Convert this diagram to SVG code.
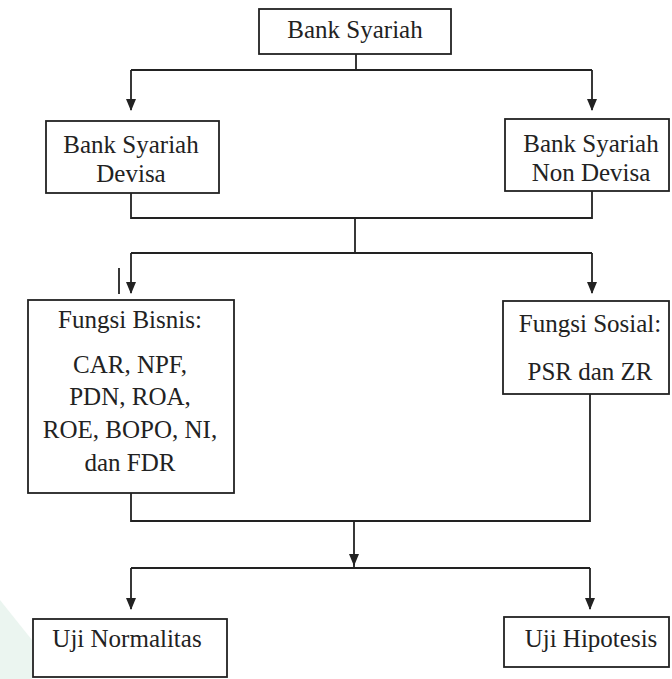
<svg xmlns="http://www.w3.org/2000/svg" width="672" height="679" viewBox="0 0 672 679">
<style>
.box{fill:#fff;stroke:#222;stroke-width:1.8}
.ln{fill:none;stroke:#222;stroke-width:1.8}
.t{font-family:'Liberation Serif','Times New Roman',serif;font-size:25px;fill:#222;text-anchor:middle}
</style>
<defs>
<marker id="ah" markerUnits="userSpaceOnUse" markerWidth="12" markerHeight="14" viewBox="0 0 12 14" refX="11" refY="6" orient="auto">
<path d="M0,1 L12,6 L0,11 z" fill="#222"/>
</marker>
</defs>
<rect width="672" height="679" fill="#fff"/>
<path d="M0,600 L32,640 L32,679 L0,679 z" fill="#e3f1ea" opacity="0.7"/>
<g id="connectors">
<path class="ln" d="M356,54 V70"/>
<path class="ln" d="M131,70 H592"/>
<path class="ln" d="M131,70 V110" marker-end="url(#ah)"/>
<path class="ln" d="M592,70 V110" marker-end="url(#ah)"/>
<path class="ln" d="M131,193 V218 H592 V191"/>
<path class="ln" d="M355,218 V253"/>
<path class="ln" d="M131,253 H592"/>
<path class="ln" d="M131,253 V293" marker-end="url(#ah)"/>
<path class="ln" d="M592,253 V293" marker-end="url(#ah)"/>
<path class="ln" d="M119,268 V294"/>
<path class="ln" d="M131,493 V521 H590 V394"/>
<path class="ln" d="M354,521 V565" marker-end="url(#ah)"/>
<path class="ln" d="M354,562 V568"/>
<path class="ln" d="M131,568 H590"/>
<path class="ln" d="M131,568 V609" marker-end="url(#ah)"/>
<path class="ln" d="M590,568 V609" marker-end="url(#ah)"/>
</g>
<g id="bank-syariah">
<rect class="box" x="259" y="9" width="192" height="45"/>
<text class="t" x="355" y="38">Bank Syariah</text>
</g>
<g id="bank-syariah-devisa">
<rect class="box" x="46" y="121" width="173" height="72"/>
<text class="t" x="131" y="153">Bank Syariah</text>
<text class="t" x="131" y="182">Devisa</text>
</g>
<g id="bank-syariah-non-devisa">
<rect class="box" x="505" y="119" width="164" height="72"/>
<text class="t" x="591" y="152">Bank Syariah</text>
<text class="t" x="591" y="181">Non Devisa</text>
</g>
<g id="fungsi-bisnis">
<rect class="box" x="28" y="300" width="206" height="193"/>
<text class="t" x="130" y="328">Fungsi Bisnis:</text>
<text class="t" x="130" y="373">CAR, NPF,</text>
<text class="t" x="130" y="405">PDN, ROA,</text>
<text class="t" x="130" y="438">ROE, BOPO, NI,</text>
<text class="t" x="130" y="471">dan FDR</text>
</g>
<g id="fungsi-sosial">
<rect class="box" x="503" y="301" width="166" height="93"/>
<text class="t" x="590" y="332">Fungsi Sosial:</text>
<text class="t" x="590" y="380">PSR dan ZR</text>
</g>
<g id="uji-normalitas">
<rect class="box" x="33" y="619" width="194" height="58"/>
<text class="t" x="127" y="647">Uji Normalitas</text>
</g>
<g id="uji-hipotesis">
<rect class="box" x="504" y="617" width="165" height="50"/>
<text class="t" x="591" y="647">Uji Hipotesis</text>
</g>
</svg>
